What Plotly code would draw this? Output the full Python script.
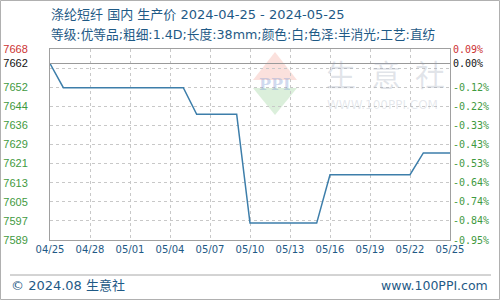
import plotly.graph_objects as go

# ---- data ----
dates = ["2024-04-25", "2024-04-26", "2024-04-27", "2024-04-28", "2024-04-29", "2024-04-30",
         "2024-05-01", "2024-05-02", "2024-05-03", "2024-05-04", "2024-05-05", "2024-05-06",
         "2024-05-07", "2024-05-08", "2024-05-09", "2024-05-10", "2024-05-11", "2024-05-12",
         "2024-05-13", "2024-05-14", "2024-05-15", "2024-05-16", "2024-05-17", "2024-05-18",
         "2024-05-19", "2024-05-20", "2024-05-21", "2024-05-22", "2024-05-23", "2024-05-24",
         "2024-05-25"]
prices = [7662, 7652, 7652, 7652, 7652, 7652, 7652, 7652, 7652, 7652, 7652,
          7641, 7641, 7641, 7641,
          7596, 7596, 7596, 7596, 7596, 7596,
          7616, 7616, 7616, 7616, 7616, 7616, 7616,
          7625, 7625, 7625]
base_price = 7662
y_range = [7589, 7668]
y_tickvals = [7668, 7662, 7660.1, 7652.2, 7644.3, 7636.4, 7628.5, 7620.6, 7612.7, 7604.8, 7596.9, 7589]
y_ticklabels = ["7668", "7662", "", "7652", "7644", "7636", "7629", "7621", "7613", "7605", "7597", "7589"]
pct_ticklabels = ["0.09%", "0.00%", "", "-0.12%", "-0.22%", "-0.33%", "-0.43%", "-0.53%",
                  "-0.64%", "-0.74%", "-0.84%", "-0.95%"]
x_range = ["2024-04-25", "2024-05-25"]

title_text = "涤纶短纤 国内 生产价 2024-04-25 - 2024-05-25"
subtitle_text = "等级:优等品;粗细:1.4D;长度:38mm;颜色:白;色泽:半消光;工艺:直纺"
footer_left = "© 2024.08 生意社"
footer_right = "www.100PPI.com"

# ---- styles ----
RED = "#cc3333"
GREEN = "#3f9a3f"
BLUE_TXT = "#1f5a86"
LINE = "#3d7eaa"
MIX = "DejaVu Sans, Noto Sans CJK SC"
CJK = "Noto Sans CJK SC"

def color_label(lbl, i):
    if lbl == "":
        return ""
    if i == 0:
        c = RED
    elif i == 1:
        c = "#111111"
    else:
        c = GREEN
    return f'<span style="color:{c}">{lbl}</span>'

left_text = [color_label(l, i) for i, l in enumerate(y_ticklabels)]
right_text = [color_label(l, i) for i, l in enumerate(pct_ticklabels)]

# layout geometry (pixels -> paper)
L, R, T, B = 50, 50, 49, 60
W, H = 500, 300
PW, PH = W - L - R, H - T - B

def px(x):
    return (x - L) / PW

def py(y):
    return (H - B - y) / PH

fig = go.Figure()
fig.add_trace(go.Scatter(x=dates, y=prices, mode="lines",
                         line=dict(color=LINE, width=1.5), hoverinfo="skip"))
fig.add_trace(go.Scatter(x=dates, y=prices, mode="lines", yaxis="y2",
                         line=dict(color="rgba(0,0,0,0)", width=0), hoverinfo="skip"))

fig.update_layout(
    width=W, height=H,
    margin=dict(l=L, r=R, t=T, b=B, pad=0, autoexpand=False),
    paper_bgcolor="white", plot_bgcolor="white",
    showlegend=False,
    xaxis=dict(
        type="date", range=x_range, tick0=x_range[0], dtick=3 * 86400000,
        tickformat="%m/%d", showgrid=True, gridcolor="#c8c8c8", griddash="dot", gridwidth=1,
        showline=True, linecolor="#a0a0a0", linewidth=1, mirror=True,
        ticks="", zeroline=False, automargin=False,
        tickfont=dict(family="DejaVu Sans", size=10, color=BLUE_TXT),
    ),
    yaxis=dict(
        range=y_range, tickmode="array", tickvals=y_tickvals, ticktext=left_text,
        showgrid=True, gridcolor="#c8c8c8", griddash="dot", gridwidth=1,
        showline=True, linecolor="#a0a0a0", linewidth=1, mirror=True,
        ticks="", zeroline=False, ticklabelstandoff=19, automargin=False,
        tickfont=dict(family="Liberation Sans", size=11, color=GREEN),
    ),
    yaxis2=dict(
        range=y_range, overlaying="y", side="right", tickmode="array",
        tickvals=y_tickvals, ticktext=right_text, showgrid=False, showline=False,
        ticks="", zeroline=False, ticklabelstandoff=2, automargin=False,
        tickfont=dict(family="DejaVu Sans Mono", size=10, color=GREEN),
    ),
)

shapes = []
# watermark diamond
shapes.append(dict(type="path", xref="paper", yref="paper", layer="below",
                   path=f"M {px(275)} {py(52)} L {px(297)} {py(80)} L {px(253)} {py(80)} Z",
                   fillcolor="rgba(235,120,100,0.22)", line=dict(width=0)))
shapes.append(dict(type="path", xref="paper", yref="paper", layer="below",
                   path=f"M {px(253)} {py(88)} L {px(297)} {py(88)} L {px(275)} {py(115)} Z",
                   fillcolor="rgba(110,190,110,0.25)", line=dict(width=0)))
# baseline at base price
shapes.append(dict(type="line", xref="paper", x0=0, x1=1, yref="y", y0=base_price, y1=base_price,
                   line=dict(color="#9a9a9a", width=1)))
# footer separator
shapes.append(dict(type="line", xref="paper", yref="paper", x0=px(10), x1=px(491),
                   y0=py(275), y1=py(275), line=dict(color="#a8a8a8", width=1)))
# outer border
shapes.append(dict(type="rect", xref="paper", yref="paper", x0=px(0.5), x1=px(499.5),
                   y0=py(299.5), y1=py(0.5), line=dict(color="#b0b0b0", width=1)))
fig.update_layout(shapes=shapes)

ann = []
ann.append(dict(text=title_text, xref="paper", yref="paper", x=px(49), y=py(15),
                xanchor="left", yanchor="middle", showarrow=False,
                font=dict(family=MIX, size=13, color=BLUE_TXT)))
ann.append(dict(text=subtitle_text, xref="paper", yref="paper", x=px(49), y=py(34),
                xanchor="left", yanchor="middle", showarrow=False,
                font=dict(family=MIX, size=12.7, color=BLUE_TXT)))
ann.append(dict(text=footer_left, xref="paper", yref="paper", x=px(9), y=py(285),
                xanchor="left", yanchor="middle", showarrow=False,
                font=dict(family=MIX, size=13, color=BLUE_TXT)))
ann.append(dict(text=footer_right, xref="paper", yref="paper", x=px(490), y=py(285),
                xanchor="right", yanchor="middle", showarrow=False,
                font=dict(family="DejaVu Sans", size=12.5, color=BLUE_TXT)))
# watermark text
ann.append(dict(text="<b>PPI</b>", xref="paper", yref="paper", x=px(275), y=py(84),
                xanchor="center", yanchor="middle", showarrow=False,
                font=dict(family="DejaVu Serif", size=16, color="rgba(120,150,210,0.35)")))
for ch, cx in zip(["生", "意", "社"], [341, 386, 430]):
    ann.append(dict(text=ch, xref="paper", yref="paper", x=px(cx), y=py(73),
                    xanchor="center", yanchor="middle", showarrow=False,
                    font=dict(family=CJK, size=30, color="rgba(150,160,180,0.28)")))
ann.append(dict(text="WWW.100PPI.COM", xref="paper", yref="paper", x=px(382), y=py(105),
                xanchor="center", yanchor="middle", showarrow=False,
                font=dict(family="DejaVu Sans", size=12, color="rgba(150,160,180,0.25)")))
fig.update_layout(annotations=ann)

fig.write_html("out.html")
